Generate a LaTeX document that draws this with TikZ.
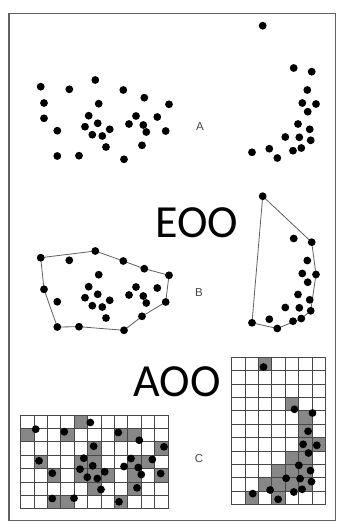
\documentclass[tikz,border=0pt]{standalone}
\usepackage{fontspec}
\setmainfont{Liberation Sans}
\newfontfamily\bigfont{Carlito}
\usetikzlibrary{backgrounds}
\begin{document}
\begin{tikzpicture}[x=1pt,y=-1pt,
  dot/.style={circle,fill=black,inner sep=0pt,minimum size=7.8pt},
  hull/.style={draw=black!62,line width=0.8pt},
  frame/.style={draw=black!62,line width=1.4pt},
  gridline/.style={draw=black!72,line width=1pt},
  cellfill/.style={fill=black!47},
  panel/.style={font=\fontsize{11.5}{11.5}\selectfont,text=black!72,inner sep=0pt},
  big/.style={font=\bigfont\fontsize{46}{46}\selectfont,inner sep=0pt}]
\useasboundingbox (0,0) rectangle (341,532);
\begin{scope}[on background layer]
  \fill[white] (0,0) rectangle (341,532);
\end{scope}
\draw[frame] (9,13.5) rectangle (335.5,520.5);

\def\leftdots{40.7/86.7/1, 69.3/89.3/2, 95.3/80/3, 123.3/90/4, 144.3/97.7/5,
 169/104.3/6, 98.7/103.7/7, 44/118.3/8, 88.7/115.7/9, 136/116/10, 157.3/117/11,
 57.3/130.7/12, 85/126.7/13, 97.7/123.3/14, 109.7/129.3/15, 129/124/16,
 143.3/125/17, 146.3/132/18, 165.7/131/19, 92.3/134.7/20, 102.3/136/21,
 106/147/22, 142/145.3/23, 57.3/156/24, 79/155.7/25, 124/159.3/26}
\def\rightdots{262.7/25.7/1, 293.7/68/2, 311.7/71.7/3, 307.3/90/4, 302.3/103/5,
 316/104/6, 307.7/111.7/7, 298/124/8, 309.7/129.3/9, 285.3/137/10, 299.3/137.3/11,
 310.7/140.3/12, 301.3/148/13, 293/150.7/14, 269.3/148.7/15, 252/152.3/16,
 277.3/158/17}

% ---------- A ----------
\foreach \x/\y/\n in \leftdots {\node[dot] (AL\n) at (\x,\y) {};}
\node[dot] (ALx) at (44,103) {};
\foreach \x/\y/\n in \rightdots {\node[dot] (AR\n) at (\x,\y) {};}
\node[panel] (labA) at (200,126.7) {A};

% ---------- B ----------
\foreach \x/\y/\n in \leftdots {\node[dot] (BL\n) at (\x,\y+171) {};}
\foreach \x/\y/\n in \rightdots {\node[dot] (BR\n) at (\x,\y+170.5) {};}
\begin{scope}[on background layer]
  \draw[hull] (BL1.center) -- (BL3.center) -- (BL4.center) -- (BL5.center)
    -- (BL6.center) -- (BL19.center) -- (BL23.center) -- (BL26.center)
    -- (BL25.center) -- (BL24.center) -- (BL8.center) -- cycle;
  \draw[hull] (BR1.center) -- (BR3.center) -- (BR6.center) -- (BR12.center)
    -- (BR13.center) -- (BR17.center) -- (BR16.center) -- cycle;
\end{scope}
\node[panel] (labB) at (199,292.3) {B};
\node[big] (eoo) at (197,223) {EOO};

% ---------- C ----------
\foreach \c/\r in {4/0, 0/1, 3/1, 7/1, 8/1, 5/2, 10/2, 1/3, 4/3, 5/3, 8/3, 9/3,
  2/4, 4/4, 5/4, 6/4, 8/4, 10/4, 5/5, 8/5, 2/6, 3/6, 7/6}
  {\fill[cellfill] (20.7+\c*13.4,415+\r*13.4) rectangle ++(13.4,13.4);}
\foreach \i in {0,...,11}
  {\draw[gridline] (20.7+\i*13.4,415) -- (20.7+\i*13.4,508.8);}
\foreach \j in {0,...,7}
  {\draw[gridline] (20.7,415+\j*13.4) -- (168.1,415+\j*13.4);}

\foreach \c/\r in {2/0, 4/3, 5/4, 5/5, 5/6, 6/6, 4/7, 5/7, 3/8, 4/8, 5/8,
  2/9, 3/9, 4/9, 5/9, 1/10, 3/10}
  {\fill[cellfill] (231.7+\c*13.4,357.3+\r*13.4) rectangle ++(13.4,13.4);}
\foreach \i in {0,...,7}
  {\draw[gridline] (231.7+\i*13.4,357.3) -- (231.7+\i*13.4,504.7);}
\foreach \j in {0,...,11}
  {\draw[gridline] (231.7,357.3+\j*13.4) -- (325.5,357.3+\j*13.4);}

\foreach \x/\y/\n in \leftdots {\node[dot] (CL\n) at (\x-5,\y+342.5) {};}
\foreach \x/\y/\n in \rightdots {\node[dot] (CR\n) at (\x+0.8,\y+341.3) {};}
\node[panel] (labC) at (199,458.3) {C};
\node[big] (aoo) at (177,381.7) {AOO};
\end{tikzpicture}
\end{document}
